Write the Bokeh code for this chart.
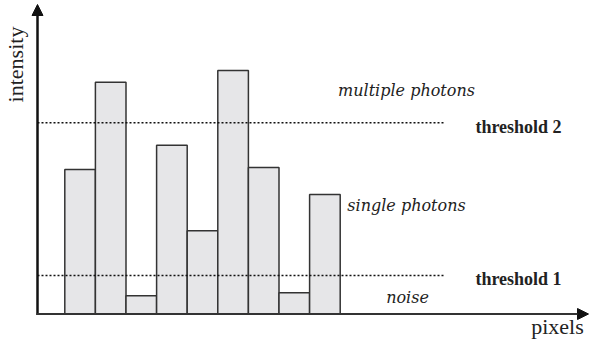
from bokeh.plotting import figure
from bokeh.models import Range1d, Arrow, NormalHead, Label, ColumnDataSource
from bokeh.embed import file_html
from bokeh.resources import INLINE

# Data
pixels = [1, 2, 3, 4, 5, 6, 7, 8, 9]
intensity = [57.8, 92.7, 7.3, 67.5, 33.3, 97.4, 58.6, 8.5, 47.8]
threshold_1 = 15.4
threshold_2 = 76.5
region_labels = ["multiple photons", "single photons", "noise"]
threshold_labels = ["threshold 2", "threshold 1"]

# layout helpers (pixel -> data)
def ux(px):
    return 0.5 + (px - 64.3) / 30.6

def vy(py):
    return (313.5 - py) / 2.5

W, H = 589, 349
p = figure(width=W, height=H, output_backend="svg", toolbar_location=None,
           x_range=Range1d(ux(0), ux(W)), y_range=Range1d(vy(H), vy(0)),
           x_axis_type=None, y_axis_type=None, min_border=0)
p.grid.visible = False
p.outline_line_color = None
p.background_fill_color = "white"
p.border_fill_color = "white"

src = ColumnDataSource(dict(x=pixels, top=intensity))
p.vbar(x="x", top="top", bottom=0, width=1.0, source=src,
       fill_color="#e6e6e8", line_color="#333333", line_width=1.5)

# threshold lines
for t in (threshold_1, threshold_2):
    p.line([ux(37), ux(445)], [t, t], line_color="#111111", line_width=1.3,
           line_dash="2 2")

# axes as arrows
p.add_layout(Arrow(end=NormalHead(size=11, fill_color="#111111", line_color="#111111"),
                   x_start=ux(37), y_start=vy(314.5), x_end=ux(37), y_end=vy(4),
                   line_width=2.5, line_color="#111111"))
p.add_layout(Arrow(end=NormalHead(size=11, fill_color="#111111", line_color="#111111"),
                   x_start=ux(36), y_start=0, x_end=ux(588), y_end=0,
                   line_width=2.2, line_color="#333333"))

serif = "Liberation Serif"
italic_serif = "DejaVu Serif"
col = "#222222"

def lab(txt, px, py, size, style="normal", angle=0, font=serif):
    p.add_layout(Label(x=ux(px), y=vy(py), text=txt, text_font=font,
                       text_font_size=f"{size}px", text_font_style=style,
                       text_color=col, text_align="center", text_baseline="middle",
                       angle=angle))

lab(region_labels[0], 406, 90, 16, "italic", font=italic_serif)
lab(region_labels[1], 406, 205, 16, "italic", font=italic_serif)
lab(region_labels[2], 407, 297, 16, "italic", font=italic_serif)
lab(threshold_labels[0], 518, 126, 18, "bold")
lab(threshold_labels[1], 518, 278, 18, "bold")
lab("pixels", 557, 326, 22)
lab("intensity", 15, 64, 22, angle=1.5708)

open("out.html", "w").write(file_html(p, INLINE))
